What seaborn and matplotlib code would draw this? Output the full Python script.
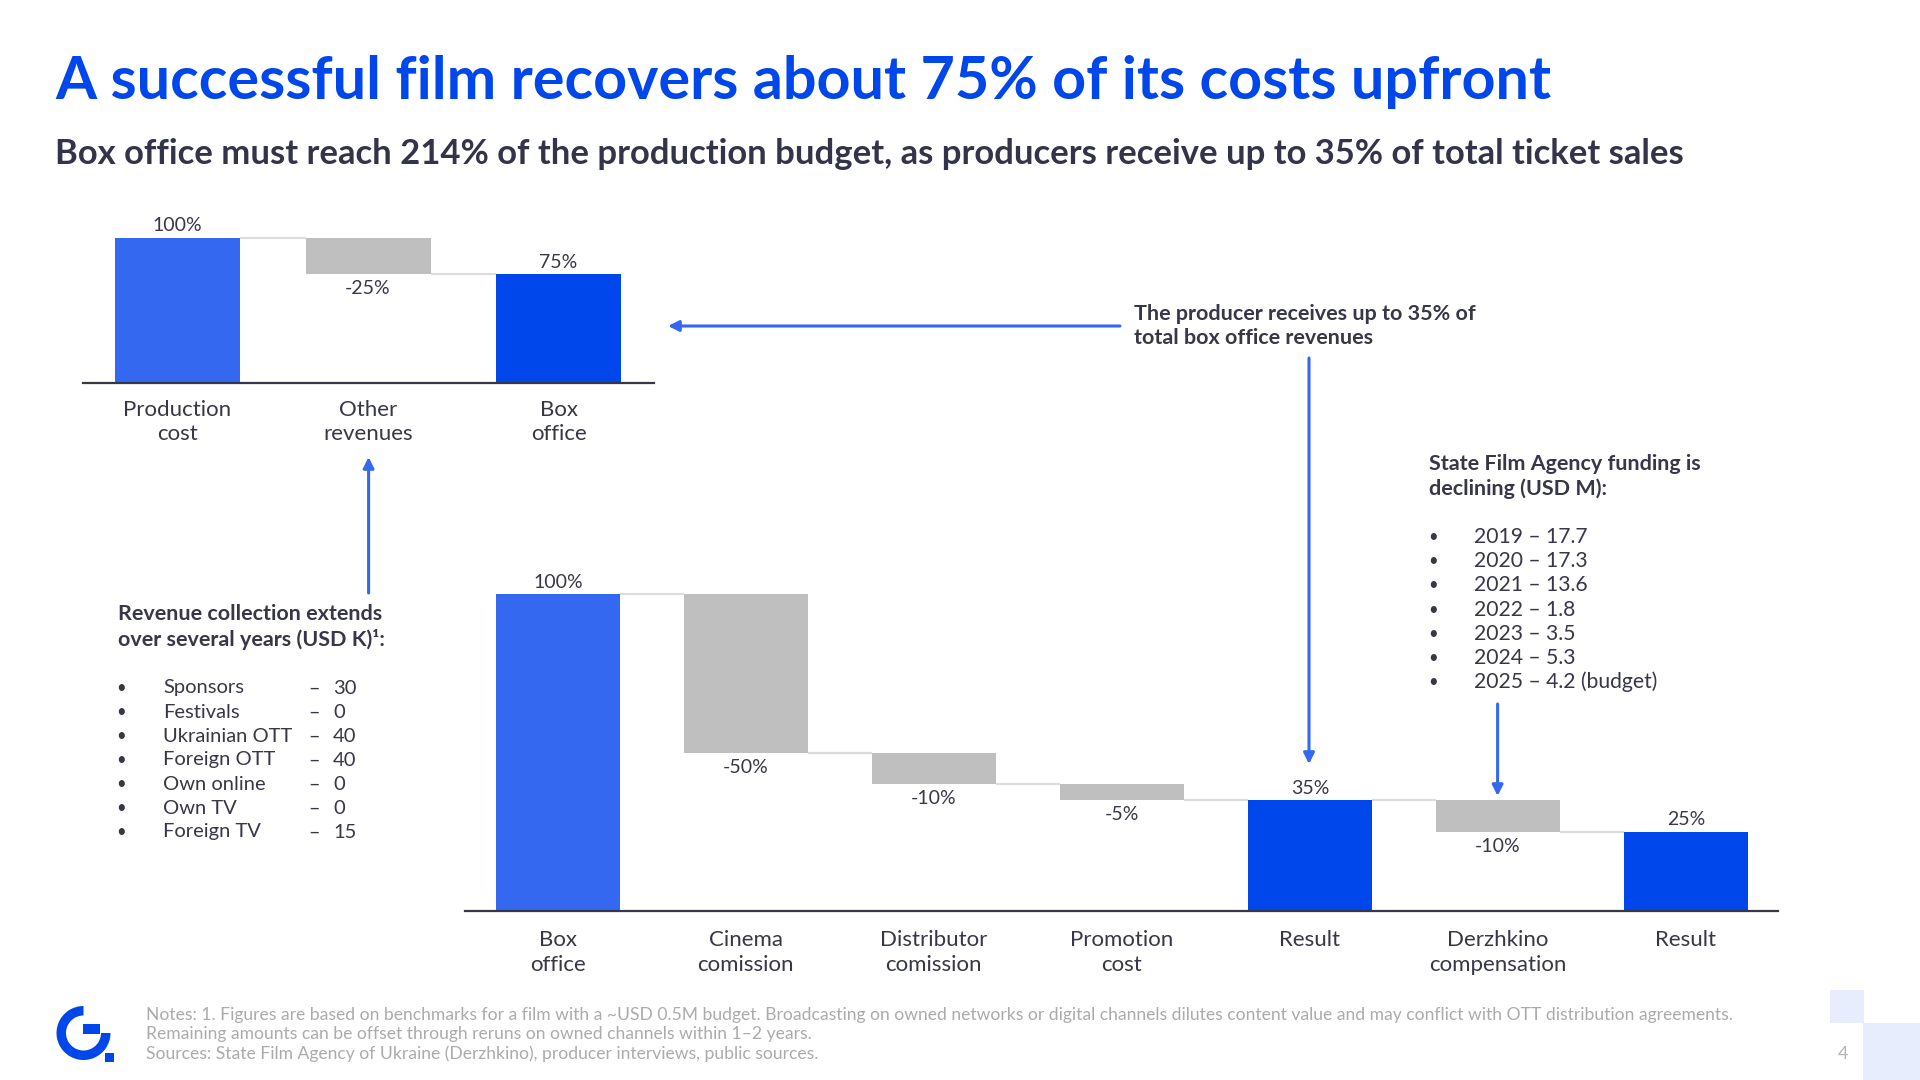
import numpy as np
import pandas as pd
import matplotlib
matplotlib.use("Agg")
import matplotlib.pyplot as plt
import seaborn as sns
from matplotlib.patches import Rectangle, Wedge, FancyArrowPatch

# ---------------- data ----------------
title = "A successful film recovers about 75% of its costs upfront"
subtitle = ("Box office must reach 214% of the production budget, "
            "as producers receive up to 35% of total ticket sales")

top_categories = ["Production\ncost", "Other\nrevenues", "Box\noffice"]
top_values = [100, -25, 75]
top_kinds = ["total", "delta", "total"]

main_categories = ["Box\noffice", "Cinema\ncomission", "Distributor\ncomission",
                   "Promotion\ncost", "Result", "Derzhkino\ncompensation", "Result"]
main_values = [100, -50, -10, -5, 35, -10, 25]
main_kinds = ["total", "delta", "delta", "delta", "total", "delta", "total"]

revenue_title = "Revenue collection extends\nover several years (USD K)\u00b9:"
revenue_sources = ["Sponsors", "Festivals", "Ukrainian OTT", "Foreign OTT",
                   "Own online", "Own TV", "Foreign TV"]
revenue_values_usd_k = [30, 0, 40, 40, 0, 0, 15]

funding_title = "State Film Agency funding is\ndeclining (USD M):"
funding_years = [2019, 2020, 2021, 2022, 2023, 2024, 2025]
funding_usd_m = [17.7, 17.3, 13.6, 1.8, 3.5, 5.3, 4.2]
funding_notes = ["", "", "", "", "", "", " (budget)"]

producer_note = "The producer receives up to 35% of\ntotal box office revenues"

footnotes = [
    "Notes: 1. Figures are based on benchmarks for a film with a ~USD 0.5M budget. Broadcasting on owned "
    "networks or digital channels dilutes content value and may conflict with OTT distribution agreements.",
    "Remaining amounts can be offset through reruns on owned channels within 1\u20132 years.",
    "Sources: State Film Agency of Ukraine (Derzhkino), producer interviews, public sources.",
]
page_number = "4"

# ---------------- style ----------------
BLUE_LIGHT = "#3568F0"
BLUE_DARK = "#0047EB"
GREY = "#BFBFBF"
CONN = "#DCDCDC"
TEXT = "#373747"
NOTE = "#ABABAB"
ARROW = "#3568F0"

sns.set_theme(style="white")
plt.rcParams["font.family"] = ["Lato", "DejaVu Sans"]

W, H = 1920, 1080
fig = plt.figure(figsize=(19.2, 10.8), dpi=100)
fig.patch.set_facecolor("white")
renderer = fig.canvas.get_renderer()


def fx(px):
    return px / W


def fy(py):
    return 1 - py / H


def fit_width(t, target):
    w = t.get_window_extent(renderer).width
    t.set_fontsize(t.get_fontsize() * target / w)


def waterfall(values, kinds):
    bases, tops, levels = [], [], []
    run = 0
    for v, k in zip(values, kinds):
        if k == "total":
            base, top = 0, v
            run = v
        else:
            top = run
            base = run + v
            run = base
        bases.append(base)
        tops.append(top)
        levels.append(run)
    return bases, tops, levels


def bar_colors(kinds):
    cols = []
    first = True
    for k in kinds:
        if k == "total":
            cols.append(BLUE_LIGHT if first else BLUE_DARK)
            first = False
        else:
            cols.append(GREY)
    return cols


def draw_waterfall(ax, cats, values, kinds, width, tick_pad, value_fs, tick_fs):
    bases, tops, levels = waterfall(values, kinds)
    cols = bar_colors(kinds)
    df = pd.DataFrame({"step": np.arange(len(values)), "top": tops})
    sns.barplot(data=df, x="step", y="top", ax=ax, width=width, color=GREY,
                saturation=1, linewidth=0, edgecolor="none", errorbar=None)
    for p, b, t, c in zip(ax.patches, bases, tops, cols):
        p.set_y(b)
        p.set_height(t - b)
        p.set_facecolor(c)
        p.set_zorder(2)
    for i in range(len(values) - 1):
        ax.plot([i + width / 2, i + 1 - width / 2], [levels[i], levels[i]],
                color=CONN, lw=1.6, zorder=1, solid_capstyle="butt")
    for i, (v, k, b, t) in enumerate(zip(values, kinds, bases, tops)):
        if k == "total":
            ax.annotate(f"{v}%", (i, t), xytext=(0, 8.5), textcoords="offset points",
                        ha="center", va="center", fontsize=value_fs, color=TEXT)
        else:
            ax.annotate(f"{v}%", (i, b), xytext=(0, -10.5), textcoords="offset points",
                        ha="center", va="center", fontsize=value_fs, color=TEXT)
    ax.set_xticks(np.arange(len(cats)))
    ax.set_xticklabels(cats, fontsize=tick_fs, color=TEXT, linespacing=1.27)
    ax.tick_params(axis="x", length=0, pad=tick_pad)
    ax.set_yticks([])
    ax.set_xlabel("")
    ax.set_ylabel("")
    sns.despine(ax=ax, left=True)
    ax.spines["bottom"].set_color(TEXT)
    ax.spines["bottom"].set_linewidth(1.6)
    ax.set_facecolor("none")


# ---------------- top waterfall ----------------
ax_top = fig.add_axes([fx(83), fy(383), (654 - 83) / W, 174.5 / H])
draw_waterfall(ax_top, top_categories, top_values, top_kinds, 0.656, 12, 14, 16)
ax_top.set_ylim(0, 120)
ax_top.set_xlim(-0.496, 2.501)

# ---------------- main waterfall ----------------
ax_main = fig.add_axes([fx(465), fy(911), (1778 - 465) / W, 348.7 / H])
draw_waterfall(ax_main, main_categories, main_values, main_kinds, 0.66, 14, 14, 16)
ax_main.set_ylim(0, 110)
ax_main.set_xlim(-0.494, 6.49)

# ---------------- titles ----------------
t = fig.text(fx(55), fy(82), title, fontsize=40, fontweight="bold", color=BLUE_DARK,
             ha="left", va="center")
fit_width(t, 1495)
t = fig.text(fx(55), fy(154), subtitle, fontsize=22, fontweight="bold", color="#33334A",
             ha="left", va="center")
fit_width(t, 1627)

# ---------------- annotations ----------------
t = fig.text(fx(1134), fy(326), producer_note, fontsize=15.5, fontweight="bold",
             color=TEXT, ha="left", va="center", linespacing=1.31)
fit_width(t, 340)
bold_fs = t.get_fontsize()
fig.text(fx(117.5), fy(627), revenue_title, fontsize=bold_fs, fontweight="bold",
         color=TEXT, ha="left", va="center", linespacing=1.31)
fig.text(fx(1429), fy(476.5), funding_title, fontsize=bold_fs, fontweight="bold",
         color=TEXT, ha="left", va="center", linespacing=1.31)

for i, (name, val) in enumerate(zip(revenue_sources, revenue_values_usd_k)):
    y = fy(688 + i * 24)
    fig.text(fx(121), y, "\u2022", fontsize=12, color=TEXT, ha="center", va="center")
    fig.text(fx(163), y, name, fontsize=14.5, color=TEXT, ha="left", va="center")
    fig.text(fx(308), y, "\u2013", fontsize=14.5, color=TEXT, ha="left", va="center")
    fig.text(fx(333), y, f"{val}", fontsize=14.5, color=TEXT, ha="left", va="center")

for i, (yr, val, note) in enumerate(zip(funding_years, funding_usd_m, funding_notes)):
    y = fy(537 + i * 24.2)
    fig.text(fx(1433), y, "\u2022", fontsize=12, color=TEXT, ha="center", va="center")
    fig.text(fx(1474), y, f"{yr} \u2013 {val}{note}", fontsize=15.2, color=TEXT,
             ha="left", va="center")

# ---------------- arrows ----------------
def arrow(p0, p1):
    a = FancyArrowPatch((fx(p0[0]), fy(p0[1])), (fx(p1[0]), fy(p1[1])),
                        transform=fig.transFigure, arrowstyle="-|>", mutation_scale=16,
                        lw=2.2, color=ARROW, shrinkA=0, shrinkB=0)
    fig.add_artist(a)

arrow((1120, 326), (668, 326))
arrow((1309, 358), (1309, 764))
arrow((368.6, 593), (368.6, 457))
arrow((1497.6, 704), (1497.6, 796))

# ---------------- footer ----------------
t0 = fig.text(fx(146), fy(1015), footnotes[0], fontsize=10, color=NOTE, ha="left", va="center")
fit_width(t0, 1588)
for i, line in enumerate(footnotes[1:], start=1):
    fig.text(fx(146), fy(1015 + i * 19.5), line, fontsize=t0.get_fontsize(), color=NOTE,
             ha="left", va="center")

fig.text(fx(1843), fy(1054), page_number, fontsize=13, color="#B5B5B5", ha="center", va="center")

fig.add_artist(Rectangle((fx(1830), fy(1023)), 34 / W, 33 / H, transform=fig.transFigure,
                         facecolor="#E7EDFD", edgecolor="none"))
fig.add_artist(Rectangle((fx(1863), fy(1080)), 57 / W, 57 / H, transform=fig.transFigure,
                         facecolor="#E7EDFD", edgecolor="none"))

# logo
ax_logo = fig.add_axes([fx(50), fy(1070), 70 / W, 70 / H])
ax_logo.set_xlim(50, 120)
ax_logo.set_ylim(10, 80)
ax_logo.axis("off")
cx, cy, r = 83.5, 47, 27
ax_logo.add_patch(Wedge((cx, cy), r, 90, 360, width=9.5, facecolor=BLUE_DARK, edgecolor="none"))
ax_logo.add_patch(Rectangle((cx - 1, cy - 1), 17, 10, facecolor=BLUE_DARK, edgecolor="none"))
ax_logo.add_patch(Rectangle((105, 18.5), 8.5, 8.5, facecolor=BLUE_DARK, edgecolor="none"))

fig.savefig("out.png", dpi=100)
